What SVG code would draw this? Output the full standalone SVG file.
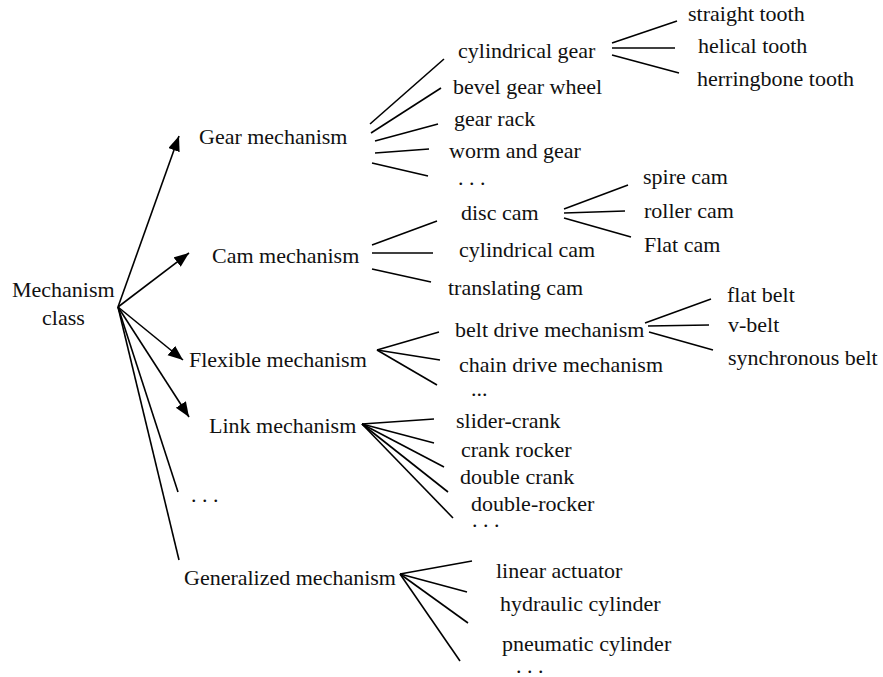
<svg xmlns="http://www.w3.org/2000/svg" width="883" height="677" viewBox="0 0 883 677">
<style>
text{font-family:"Liberation Serif","Times New Roman",serif;font-size:22px;fill:#111}
.c line{stroke:#000;stroke-width:1.6;fill:none}
</style>
<defs>
<marker id="ah" markerUnits="userSpaceOnUse" markerWidth="16" markerHeight="13" refX="15" refY="6" orient="auto">
<path d="M0,0 L15,6 L0,12 Z" fill="#000"/>
</marker>
</defs>
<rect width="883" height="677" fill="#fff"/>
<g class="c" id="connectors">
<line x1="118" y1="307" x2="179" y2="136" marker-end="url(#ah)"/>
<line x1="118" y1="307" x2="189" y2="253" marker-end="url(#ah)"/>
<line x1="118" y1="307" x2="183" y2="360" marker-end="url(#ah)"/>
<line x1="118" y1="307" x2="189" y2="417" marker-end="url(#ah)"/>
<line x1="118" y1="307" x2="178" y2="492"/>
<line x1="118" y1="307" x2="179" y2="560"/>
<line x1="370" y1="124" x2="444" y2="59"/>
<line x1="371" y1="133" x2="441" y2="88"/>
<line x1="375" y1="141" x2="438" y2="124"/>
<line x1="375" y1="153" x2="429" y2="149"/>
<line x1="372" y1="163" x2="428" y2="176"/>
<line x1="612" y1="43" x2="677" y2="21"/>
<line x1="612" y1="48" x2="675" y2="48"/>
<line x1="612" y1="55" x2="679" y2="73"/>
<line x1="372" y1="245" x2="437" y2="221"/>
<line x1="372" y1="253" x2="433" y2="253"/>
<line x1="372" y1="269" x2="431" y2="282"/>
<line x1="564" y1="209" x2="628" y2="185"/>
<line x1="564" y1="213" x2="625" y2="211"/>
<line x1="564" y1="218" x2="631" y2="237"/>
<line x1="377" y1="350" x2="439" y2="332"/>
<line x1="377" y1="350" x2="440" y2="360"/>
<line x1="377" y1="350" x2="437" y2="385"/>
<line x1="645" y1="323" x2="711" y2="299"/>
<line x1="648" y1="326" x2="709" y2="325"/>
<line x1="649" y1="332" x2="713" y2="350"/>
<line x1="362" y1="424" x2="434" y2="419"/>
<line x1="362" y1="424" x2="434" y2="443"/>
<line x1="362" y1="424" x2="444" y2="467"/>
<line x1="362" y1="424" x2="448" y2="492"/>
<line x1="362" y1="424" x2="453" y2="518"/>
<line x1="400" y1="574" x2="472" y2="561"/>
<line x1="400" y1="574" x2="467" y2="592"/>
<line x1="400" y1="574" x2="468" y2="623"/>
<line x1="400" y1="574" x2="460" y2="661"/>
</g>
<g id="root"><text x="12" y="297">Mechanism</text><text x="42" y="325">class</text></g>
<g id="gear"><text x="199" y="144">Gear mechanism</text></g>
<g id="cam"><text x="212" y="263">Cam mechanism</text></g>
<g id="flexible"><text x="189" y="367">Flexible mechanism</text></g>
<g id="link"><text x="209" y="433">Link mechanism</text></g>
<g id="more"><text x="191" y="502">. . .</text></g>
<g id="generalized"><text x="184" y="585">Generalized mechanism</text></g>
<g id="cylindrical-gear"><text x="458" y="58">cylindrical gear</text></g>
<g id="bevel"><text x="453" y="94">bevel gear wheel</text></g>
<g id="rack"><text x="454" y="126">gear rack</text></g>
<g id="worm"><text x="449" y="158">worm and gear</text></g>
<g id="gear-more"><text x="458" y="185">. . .</text></g>
<g id="straight"><text x="688" y="21">straight tooth</text></g>
<g id="helical"><text x="698" y="53">helical tooth</text></g>
<g id="herringbone"><text x="697" y="86">herringbone tooth</text></g>
<g id="disc"><text x="461" y="220">disc cam</text></g>
<g id="cyl-cam"><text x="459" y="257">cylindrical cam</text></g>
<g id="translating"><text x="448" y="295">translating cam</text></g>
<g id="spire"><text x="643" y="184">spire cam</text></g>
<g id="roller"><text x="644" y="218">roller cam</text></g>
<g id="flatcam"><text x="644" y="252">Flat cam</text></g>
<g id="belt"><text x="455" y="337">belt drive mechanism</text></g>
<g id="chain"><text x="459" y="372">chain drive mechanism</text></g>
<g id="flex-more"><text x="471" y="396">...</text></g>
<g id="flatbelt"><text x="727" y="302">flat belt</text></g>
<g id="vbelt"><text x="728" y="332">v-belt</text></g>
<g id="sync"><text x="728" y="365">synchronous belt</text></g>
<g id="slider"><text x="456" y="428">slider-crank</text></g>
<g id="crankrocker"><text x="461" y="457">crank rocker</text></g>
<g id="doublecrank"><text x="460" y="484">double crank</text></g>
<g id="doublerocker"><text x="471" y="511">double-rocker</text></g>
<g id="link-more"><text x="472" y="527">. . .</text></g>
<g id="linear"><text x="496" y="578">linear actuator</text></g>
<g id="hydraulic"><text x="500" y="611">hydraulic cylinder</text></g>
<g id="pneumatic"><text x="502" y="651">pneumatic cylinder</text></g>
<g id="gen-more"><text x="516" y="673">. . .</text></g>
</svg>
